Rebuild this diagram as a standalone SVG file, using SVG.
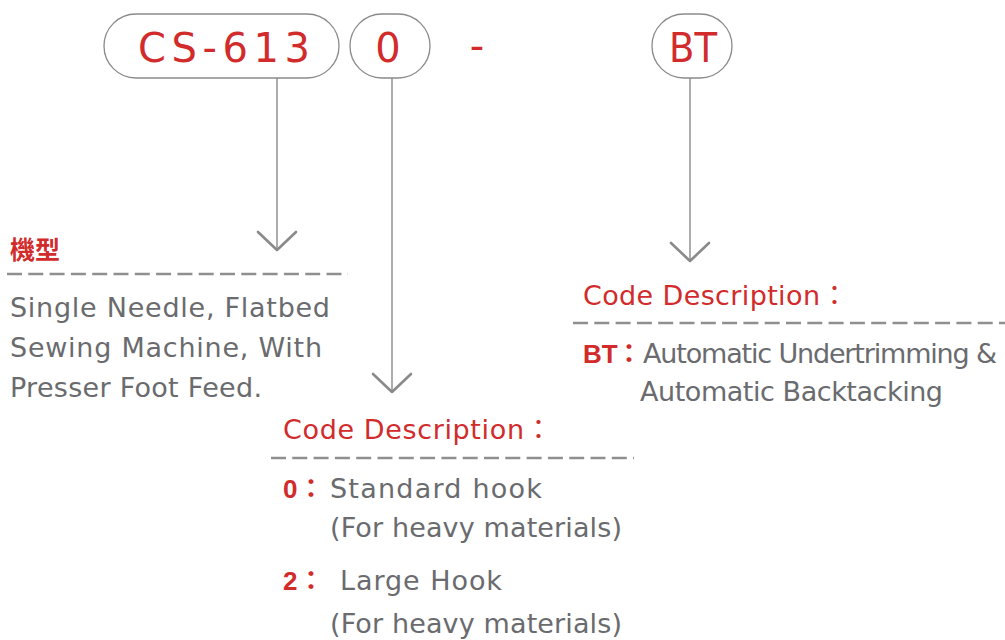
<svg xmlns="http://www.w3.org/2000/svg" width="1005" height="640" viewBox="0 0 1005 640">
<style>
.pill{fill:#fff;stroke:#8a8a8a;stroke-width:1.3}
.code{font-family:"DejaVu Sans","Liberation Sans",sans-serif;font-size:40px;fill:#d12b2c;text-anchor:middle}
.red{font-family:"DejaVu Sans","Noto Sans CJK TC",sans-serif;fill:#d12b2c}
.lbl{font-family:"Liberation Sans","Noto Sans CJK TC",sans-serif;fill:#d12b2c;font-weight:bold;font-size:26px}
.cjk{font-family:"Noto Sans CJK TC",sans-serif}
.txt{font-family:"DejaVu Sans","Liberation Sans",sans-serif;font-size:27px;fill:#6a6b6e}
.conn{stroke:#8a8a8a;stroke-width:1.4;fill:none}
.chev{stroke:#8a8a8a;stroke-width:2.6;fill:none;stroke-linecap:round;stroke-linejoin:round}
.dash{stroke:#8f8f8f;stroke-width:2.5;stroke-dasharray:15 6.3}
</style>
<rect width="1005" height="640" fill="#fff"/>
<g id="connectors">
<line class="conn" x1="277" y1="78" x2="277" y2="250"/>
<polyline class="chev" points="258,232 277,250 296,232"/>
<line class="conn" x1="392" y1="78" x2="392" y2="392"/>
<polyline class="chev" points="373,374 392,392 411,374"/>
<line class="conn" x1="690" y1="78" x2="690" y2="261"/>
<polyline class="chev" points="671,243 690,261 709,243"/>
</g>
<g id="node-cs613">
<rect class="pill" x="104" y="14" width="235" height="64" rx="32"/>
<text class="code" x="224" y="62" textLength="172" lengthAdjust="spacing">CS-613</text>
</g>
<g id="node-0">
<rect class="pill" x="350" y="14" width="80" height="64" rx="32"/>
<text class="code" x="388" y="62">0</text>
</g>
<g id="node-dash">
<text class="code" x="477" y="60">-</text>
</g>
<g id="node-bt">
<rect class="pill" x="652" y="14" width="80" height="64" rx="32"/>
<text class="code" x="693" y="62" textLength="48" lengthAdjust="spacingAndGlyphs">BT</text>
</g>
<g id="node-model">
<text class="red cjk" x="10" y="259" font-size="25" font-weight="bold">機型</text>
<line class="dash" x1="7" y1="274" x2="348" y2="274"/>
<text class="txt" x="10" y="317" textLength="320" lengthAdjust="spacing">Single Needle, Flatbed</text>
<text class="txt" x="10" y="357" textLength="312" lengthAdjust="spacing">Sewing Machine, With</text>
<text class="txt" x="10" y="397" textLength="252" lengthAdjust="spacing">Presser Foot Feed.</text>
</g>
<g id="node-hook">
<text class="red" x="283" y="439" font-size="27"><tspan textLength="241" lengthAdjust="spacing">Code Description</tspan><tspan class="cjk" x="525">：</tspan></text>
<line class="dash" x1="271" y1="458" x2="634" y2="458"/>
<text class="lbl" x="283" y="498">0<tspan class="cjk" x="298">：</tspan></text>
<text class="txt" x="330" y="498" textLength="212" lengthAdjust="spacing">Standard hook</text>
<text class="txt" x="330" y="537" textLength="292" lengthAdjust="spacing">(For heavy materials)</text>
<text class="lbl" x="283" y="590">2<tspan class="cjk" x="298">：</tspan></text>
<text class="txt" x="340" y="590" textLength="162" lengthAdjust="spacing">Large Hook</text>
<text class="txt" x="330" y="633" textLength="292" lengthAdjust="spacing">(For heavy materials)</text>
</g>
<g id="node-bt-desc">
<text class="red" x="583" y="305" font-size="27"><tspan textLength="237" lengthAdjust="spacing">Code Description</tspan><tspan class="cjk" x="821">：</tspan></text>
<line class="dash" x1="573" y1="323" x2="1005" y2="323"/>
<text class="lbl" x="583" y="363" font-size="24">BT<tspan class="cjk" x="616">：</tspan></text>
<text class="txt" x="643" y="363" textLength="354" lengthAdjust="spacing">Automatic Undertrimming &amp;</text>
<text class="txt" x="640" y="401" textLength="303" lengthAdjust="spacing">Automatic Backtacking</text>
</g>
</svg>
